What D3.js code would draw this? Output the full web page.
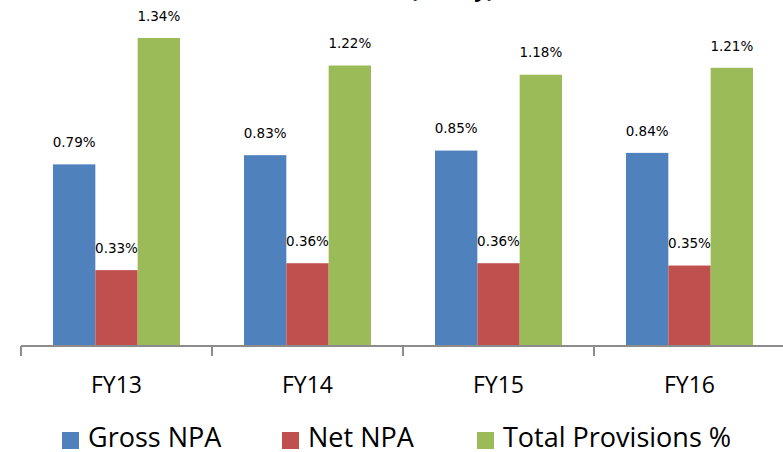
<!DOCTYPE html>
<html>
<head>
<meta charset="utf-8">
<script src="https://cdn.jsdelivr.net/npm/d3@7"></script>
<style>
  html, body { margin: 0; padding: 0; background: #fff; }
  svg { display: block; }
</style>
</head>
<body>
<svg id="chart" width="783" height="452"></svg>
<script>
const categories = ["FY13", "FY14", "FY15", "FY16"];
const seriesNames = ["Gross NPA", "Net NPA", "Total Provisions %"];
const grossNPA = [0.79, 0.83, 0.85, 0.84];
const netNPA = [0.33, 0.36, 0.36, 0.35];
const totalProvisions = [1.34, 1.22, 1.18, 1.21];
const colors = ["#4F81BD", "#C0504D", "#9BBB59"];
const titleText = "Asset Quality (Yearly)";

const seriesValues = [grossNPA, netNPA, totalProvisions];
const svg = d3.select("#chart");

const baseY = 346;
const y = d3.scaleLinear().domain([0, 1.5]).range([baseY, baseY - 1.5 * 229.9]);

const x0 = d3.scaleBand().domain(categories).range([21, 785])
  .paddingInner(0.335).paddingOuter(0.1675);
const x1 = d3.scaleBand().domain(seriesNames).range([0, x0.bandwidth()]).padding(0);

// title, almost entirely cut off at the top edge
svg.append("text")
  .attr("x", 410).attr("y", -3)
  .attr("font-family", "'Open Sans', sans-serif")
  .attr("font-weight", "bold")
  .attr("font-size", 22)
  .attr("fill", "#000")
  .text(titleText.slice(titleText.indexOf("(")));

const groups = svg.append("g").selectAll("g")
  .data(categories).join("g")
  .attr("transform", d => `translate(${x0(d)},0)`);

groups.selectAll("rect")
  .data((c, i) => seriesNames.map((s, j) => ({ s, j, v: seriesValues[j][i] })))
  .join("rect")
  .attr("x", d => x1(d.s))
  .attr("width", x1.bandwidth())
  .attr("y", d => y(d.v))
  .attr("height", d => baseY - y(d.v))
  .attr("fill", d => colors[d.j]);

groups.selectAll("text.lbl")
  .data((c, i) => seriesNames.map((s, j) => ({ s, j, v: seriesValues[j][i] })))
  .join("text")
  .attr("class", "lbl")
  .attr("x", d => x1(d.s) + x1.bandwidth() / 2)
  .attr("y", d => y(d.v) - 22)
  .attr("dy", "0.35em")
  .attr("text-anchor", "middle")
  .attr("font-family", "'DejaVu Sans', sans-serif")
  .attr("font-size", 13.5)
  .attr("fill", "#000")
  .text(d => d.v.toFixed(2) + "%");

// axis
const axisG = svg.append("g").attr("transform", `translate(0,${baseY})`);
const axis = d3.axisBottom(x0).tickSize(0).tickPadding(0);
axisG.call(axis);
axisG.select(".domain").remove();
axisG.selectAll(".tick text").remove();
axisG.append("line")
  .attr("x1", 21).attr("x2", 785).attr("y1", 0).attr("y2", 0)
  .attr("stroke", "#8c8c8c").attr("stroke-width", 2);
const edges = d3.range(categories.length + 1).map(i => 21 + i * x0.step());
axisG.selectAll("line.tk").data(edges).join("line")
  .attr("class", "tk")
  .attr("x1", d => d).attr("x2", d => d)
  .attr("y1", 0).attr("y2", 10)
  .attr("stroke", "#8c8c8c").attr("stroke-width", 2);

svg.append("g").selectAll("text")
  .data(categories).join("text")
  .attr("x", d => x0(d) + x0.bandwidth() / 2)
  .attr("y", 385)
  .attr("dy", "0.35em")
  .attr("text-anchor", "middle")
  .attr("font-family", "'Open Sans', sans-serif")
  .attr("font-size", 23)
  .attr("fill", "#000")
  .text(d => d);

// legend
const legendX = [62, 282, 477];
const leg = svg.append("g").selectAll("g")
  .data(seriesNames).join("g")
  .attr("transform", (d, i) => `translate(${legendX[i]},0)`);
leg.append("rect")
  .attr("x", 0).attr("y", 432).attr("width", 17).attr("height", 17)
  .attr("fill", (d, i) => colors[i]);
leg.append("text")
  .attr("x", 26).attr("y", 437)
  .attr("dy", "0.36em")
  .attr("font-family", "'Open Sans', sans-serif")
  .attr("font-size", 27)
  .attr("fill", "#000")
  .text(d => d);
</script>
</body>
</html>
